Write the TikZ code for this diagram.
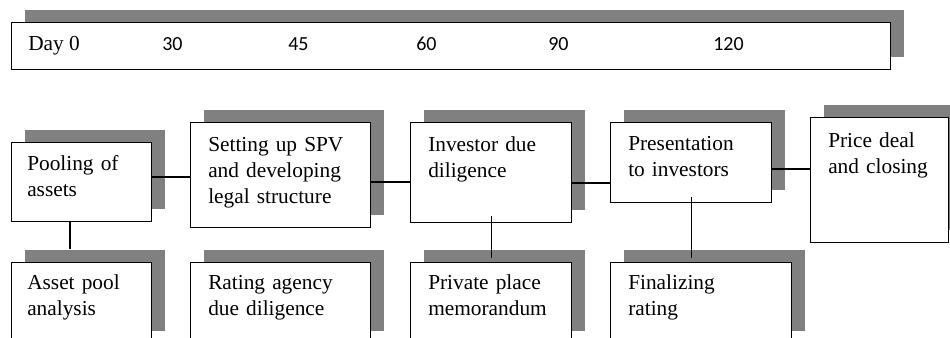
\documentclass[tikz,border=0pt]{standalone}
\usepackage{fontspec}
\setmainfont{Liberation Serif}
\newfontfamily\numfont{Carlito}
\usetikzlibrary{shadows}

\definecolor{shadowgray}{RGB}{128,128,128}

\tikzset{
  stage/.style={draw, fill=white, anchor=north west, inner sep=0pt, line width=1pt,
    drop shadow={shadow xshift=9.75pt, shadow yshift=9.75pt, fill=shadowgray, opacity=1}},
  txt/.style={anchor=base west, inner sep=0pt, text width=130pt, align=left,
    font=\rmfamily\fontsize{16}{19.5}\selectfont},
  day/.style={anchor=base west, inner sep=0pt, font=\numfont\fontsize{15}{18}\selectfont},
  link/.style={line width=0.9pt}
}

\begin{document}
\begin{tikzpicture}[x=0.75pt, y=-0.75pt]

\useasboundingbox (0,0) rectangle (950,338);
\clip (0,0) rectangle (950,338);

\node[stage, minimum width=659.25pt, minimum height=35.25pt] (line) at (11,22) {};
\node[anchor=base west, inner sep=0pt, font=\rmfamily\fontsize{16}{19.5}\selectfont] (d0) at (28,51) {Day 0};
\node[day] (d30) at (162,51) {30};
\node[day] (d45) at (288,51) {45};
\node[day] (d60) at (416,51) {60};
\node[day] (d90) at (548,51) {90};
\node[day] (d120) at (713,51) {120};

\node[stage, minimum width=105pt, minimum height=59.25pt] (pool) at (11,142) {};
\node[stage, minimum width=135pt, minimum height=78.75pt] (setup) at (190,122) {};
\node[stage, minimum width=120.75pt, minimum height=75pt] (invest) at (410,122) {};
\node[stage, minimum width=120.75pt, minimum height=60pt] (present) at (610,122) {};
\node[stage, minimum width=103.5pt, minimum height=93.75pt] (price) at (810,117) {};

\node[stage, minimum width=105pt, minimum height=60.75pt] (asset) at (11,262) {};
\node[stage, minimum width=135pt, minimum height=60.75pt] (rating) at (190,262) {};
\node[stage, minimum width=120.75pt, minimum height=60.75pt] (memo) at (410,262) {};
\node[stage, minimum width=135.75pt, minimum height=60.75pt] (final) at (610,262) {};

\node[txt] (pool-t) at ([shift={(16,29)}]pool.north west) {Pooling of\\assets};
\node[txt] (setup-t) at ([shift={(18,30)}]setup.north west) {Setting up SPV\\and developing\\legal structure};
\node[txt] (invest-t) at ([shift={(18,30)}]invest.north west) {Investor due\\diligence};
\node[txt] (present-t) at ([shift={(18,29)}]present.north west) {Presentation\\to investors};
\node[txt] (price-t) at ([shift={(18,31)}]price.north west) {Price deal\\and closing};

\node[txt] (asset-t) at ([shift={(16,28)}]asset.north west) {Asset pool\\analysis};
\node[txt] (rating-t) at ([shift={(18,28)}]rating.north west) {Rating agency\\due diligence};
\node[txt] (memo-t) at ([shift={(18,28)}]memo.north west) {Private place\\memorandum};
\node[txt] (final-t) at ([shift={(18,28)}]final.north west) {Finalizing\\rating};

\draw[link] (pool.east |- 0,177) -- (setup.west |- 0,177);
\draw[link] (setup.east |- 0,182) -- (invest.west |- 0,182);
\draw[link] (invest.east |- 0,183) -- (present.west |- 0,183);
\draw[link] (present.east |- 0,169) -- (price.west |- 0,169);

\draw[link] (pool.south -| 70,0) -- ++(0,27);
\draw[link] ([yshift=5.25pt]invest.south) -- ++(0,42);
\draw[link] ([yshift=4.5pt]present.south) -- ++(0,61);

\end{tikzpicture}
\end{document}
